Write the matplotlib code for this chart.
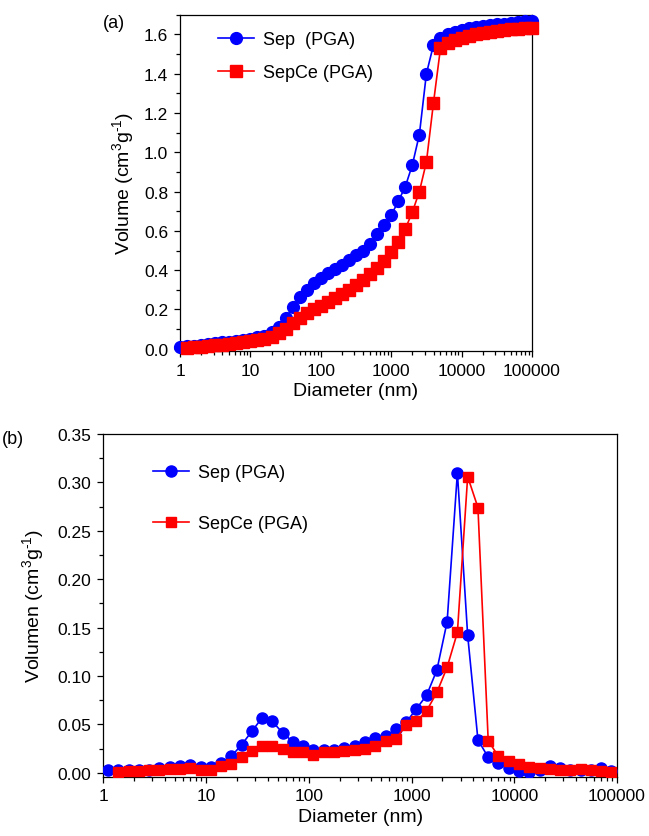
"""Pore size distribution of Sep and SepCe (PGA): cumulative and differential volume."""

import matplotlib

matplotlib.use("Agg")
import matplotlib.pyplot as plt
from matplotlib.ticker import FixedLocator, FormatStrFormatter, LogLocator, MultipleLocator, NullFormatter

plt.rcParams["font.family"] = ["Liberation Sans", "DejaVu Sans"]
plt.rcParams["mathtext.fontset"] = "custom"
plt.rcParams["mathtext.rm"] = "Liberation Sans"
plt.rcParams["mathtext.default"] = "regular"

# panel (a): cumulative volume
diam_a = [1, 1.26, 1.58, 2.0, 2.51, 3.16, 3.98, 5.01, 6.31, 7.94,
          10, 12.6, 15.8, 20.0, 25.1, 31.6, 39.8, 50.1, 63.1, 79.4,
          100, 126, 158, 200, 251, 316, 398, 501, 631, 794,
          1000, 1259, 1585, 1995, 2512, 3162, 3981, 5012, 6310, 7943,
          10000, 12589, 15849, 19953, 25119, 31623, 39811, 50119, 63096, 79433,
          100000]
sep_a = [0.007, 0.012, 0.016, 0.020, 0.024, 0.028, 0.032, 0.036, 0.041, 0.046,
         0.052, 0.058, 0.066, 0.085, 0.112, 0.155, 0.210, 0.265, 0.300, 0.335,
         0.360, 0.385, 0.405, 0.425, 0.450, 0.475, 0.500, 0.535, 0.585, 0.630,
         0.680, 0.750, 0.825, 0.935, 1.090, 1.400, 1.545, 1.580, 1.600, 1.612,
         1.622, 1.630, 1.636, 1.641, 1.646, 1.651, 1.655, 1.659, 1.663, 1.667,
         1.670]
sepce_a = [0.005, 0.008, 0.011, 0.014, 0.017, 0.020, 0.024, 0.028, 0.032,
           0.037, 0.042, 0.048, 0.060, 0.080, 0.100, 0.130, 0.155, 0.180, 0.200,
           0.220, 0.240, 0.260, 0.280, 0.300, 0.325, 0.350, 0.380, 0.410, 0.445,
           0.490, 0.545, 0.610, 0.695, 0.800, 0.950, 1.250, 1.530, 1.555, 1.570,
           1.582, 1.592, 1.600, 1.606, 1.612, 1.617, 1.621, 1.625, 1.628, 1.631,
           1.634]

# panel (b): differential volume
diam_b = [1.11, 1.40, 1.76, 2.22, 2.80, 3.52, 4.43, 5.58, 7.02, 8.84,
          11.1, 14.0, 17.6, 22.2, 28.0, 35.2, 44.3, 55.8, 70.2, 88.4,
          111, 140, 176, 222, 280, 352, 443, 558, 702, 884,
          1113, 1401, 1764, 2220, 2795, 3519, 4430, 5577, 7021, 8839,
          11127, 14008, 17635, 22201, 27950, 35186, 44296, 55765, 70203, 88380]
sep_b = [0.0025, 0.0025, 0.0025, 0.003, 0.003, 0.005, 0.006, 0.007, 0.008, 0.006,
         0.006, 0.010, 0.017, 0.029, 0.043, 0.057, 0.053, 0.041, 0.032, 0.028,
         0.024, 0.024, 0.024, 0.026, 0.028, 0.032, 0.036, 0.038, 0.045, 0.052,
         0.066, 0.080, 0.106, 0.156, 0.310, 0.142, 0.034, 0.016, 0.010, 0.005,
         0.002, 0.001, 0.003, 0.007, 0.005, 0.003, 0.003, 0.003, 0.005, 0.002]
sepce_b = [0.001, 0.002, 0.002, 0.003, 0.003, 0.004, 0.004, 0.005, 0.003,
           0.003, 0.007, 0.009, 0.016, 0.022, 0.028, 0.028, 0.025, 0.021, 0.021,
           0.018, 0.021, 0.021, 0.022, 0.024, 0.025, 0.028, 0.033, 0.035, 0.049,
           0.053, 0.064, 0.083, 0.109, 0.145, 0.306, 0.274, 0.033, 0.017, 0.012,
           0.009, 0.006, 0.005, 0.004, 0.003, 0.003, 0.004, 0.003, 0.002, 0.001]

x_ticks = [1, 10, 100, 1000, 10000, 100000]
x_tick_labels = ["1", "10", "100", "1000", "10000", "100000"]

BLUE = "#0000ff"
RED = "#ff0000"
TICK_SIZE = 12.5
LABEL_SIZE = 14
YLABEL = r"(cm$^{3}$g$^{\text{-}1}$)"


def style_axis(ax):
    """Log x axis with outward ticks on left/bottom only."""
    ax.set_xscale("log")
    ax.set_xlim(1, 100000)
    ax.xaxis.set_major_locator(FixedLocator(x_ticks))
    ax.set_xticklabels(x_tick_labels)
    ax.xaxis.set_minor_locator(LogLocator(base=10, subs=range(2, 10), numticks=20))
    ax.xaxis.set_minor_formatter(NullFormatter())
    ax.tick_params(which="both", direction="out", top=False, right=False,
                   width=0.9, labelsize=TICK_SIZE, pad=4)
    ax.tick_params(which="major", length=4.5)
    ax.tick_params(which="minor", length=2.8)
    for spine in ax.spines.values():
        spine.set_linewidth(0.9)


fig = plt.figure(figsize=(6.49, 8.37), dpi=100)

# (a)
ax_a = fig.add_axes([0.2774, 0.5798, 0.5423, 0.4014])
ax_a.plot(diam_a, sep_a, "-o", color=BLUE, mec=BLUE, lw=1.2, ms=8.5,
          label="Sep  (PGA)", clip_on=False, zorder=3)
ax_a.plot(diam_a[1:], sepce_a, "-s", color=RED, mec=RED, lw=1.2, ms=8,
          label="SepCe (PGA)", clip_on=False, zorder=4)
style_axis(ax_a)
ax_a.set_ylim(-0.01, 1.70)
ax_a.yaxis.set_major_locator(MultipleLocator(0.2))
ax_a.yaxis.set_minor_locator(MultipleLocator(0.1))
ax_a.yaxis.set_major_formatter(FormatStrFormatter("%.1f"))
ax_a.set_xlabel("Diameter (nm)", fontsize=LABEL_SIZE, labelpad=3)
ax_a.set_ylabel("Volume " + YLABEL, fontsize=LABEL_SIZE, labelpad=6)
ax_a.legend(loc="center left", bbox_to_anchor=(0.108, 0.877), frameon=False,
            fontsize=13, handlelength=2.0, handletextpad=0.5, labelspacing=0.9,
            borderpad=0, borderaxespad=0)
fig.text(103 / 649, 1 - 23 / 837, "(a)", fontsize=13, va="center", ha="left")

# (b)
ax_b = fig.add_axes([0.1592, 0.0709, 0.7915, 0.4094])
ax_b.plot(diam_b, sep_b, "-o", color=BLUE, mec=BLUE, lw=1.2, ms=8,
          label="Sep (PGA)", zorder=3)
ax_b.plot(diam_b[1:], sepce_b, "-s", color=RED, mec=RED, lw=1.2, ms=7.5,
          label="SepCe (PGA)", zorder=4)
style_axis(ax_b)
ax_b.set_ylim(-0.004, 0.35)
ax_b.yaxis.set_major_locator(MultipleLocator(0.05))
ax_b.yaxis.set_minor_locator(MultipleLocator(0.025))
ax_b.yaxis.set_major_formatter(FormatStrFormatter("%.2f"))
ax_b.set_xlabel("Diameter (nm)", fontsize=LABEL_SIZE, labelpad=3)
ax_b.set_ylabel("Volumen " + YLABEL, fontsize=LABEL_SIZE, labelpad=8)
ax_b.legend(loc="center left", bbox_to_anchor=(0.097, 0.813), frameon=False,
            fontsize=13, handlelength=2.0, handletextpad=0.5, labelspacing=1.9,
            borderpad=0, borderaxespad=0)
fig.text(2 / 649, 1 - 440 / 837, "(b)", fontsize=13, va="center", ha="left")

fig.savefig("out.png", dpi=100)
plt.close(fig)
